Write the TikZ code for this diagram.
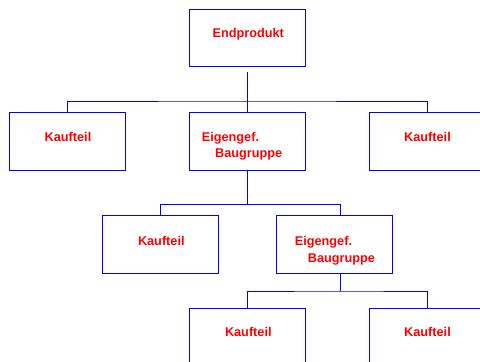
\documentclass[tikz,border=0pt]{standalone}
\usepackage{fontspec}
\setmainfont{Liberation Sans}
\begin{document}
\begin{tikzpicture}[x=1pt,y=-1pt,
  box/.style={draw=blue,line width=1pt,minimum width=116pt,minimum height=57.5pt,inner sep=0pt,outer sep=0pt},
  lbl/.style={text=red,font=\fontsize{12.7}{15}\selectfont\bfseries,inner sep=0pt,anchor=base},
  lbll/.style={lbl,anchor=base west},
  conn/.style={draw=blue,line width=1pt}]
\clip (0,0) rectangle (480,362);
% boxes
\node[box] (top) at (247.6,38) {};
\node[box] (b1) at (67.5,141.3) {};
\node[box] (b2) at (247.6,141.3) {};
\node[box] (b3) at (427.3,141.3) {};
\node[box] (b4) at (160.7,244.7) {};
\node[box] (b5) at (334.3,244.7) {};
\node[box] (b6) at (247.6,337) {};
\node[box] (b7) at (427.3,337) {};
% labels
\node[lbl] (t0) at (248.3,37.5) {Endprodukt};
\node[lbl] (t1) at (68,141.7) {Kaufteil};
\node[lbll] (t2a) at (201.7,141) {Eigengef.};
\node[lbll] (t2b) at (215,157.8) {Baugruppe};
\node[lbl] (t3) at (427.5,141.7) {Kaufteil};
\node[lbl] (t4) at (161.3,245) {Kaufteil};
\node[lbll] (t5a) at (294.7,245) {Eigengef.};
\node[lbll] (t5b) at (307.7,262) {Baugruppe};
\node[lbl] (t6) at (248.3,336.7) {Kaufteil};
\node[lbl] (t7) at (427.5,336.7) {Kaufteil};
% connector points
\coordinate (s0) at (247.6,71.8);
\coordinate (bus1) at (247.6,101);
\coordinate (bus2) at (247.6,204.7);
\coordinate (d5) at (340.5,216);
\coordinate (s5) at (340.5,273.5);
\coordinate (bus3) at (340.5,291);
% connectors
\draw[conn] (s0) -- (b2.north);
\draw[conn] (b1.north) |- (bus1) -| (b3.north);
\draw[conn] (b2.south) -- (bus2);
\draw[conn] (b4.north) |- (bus2) -| (d5);
\draw[conn] (s5) -- (bus3);
\draw[conn] (b6.north) |- (bus3) -| (b7.north);
\end{tikzpicture}
\end{document}
